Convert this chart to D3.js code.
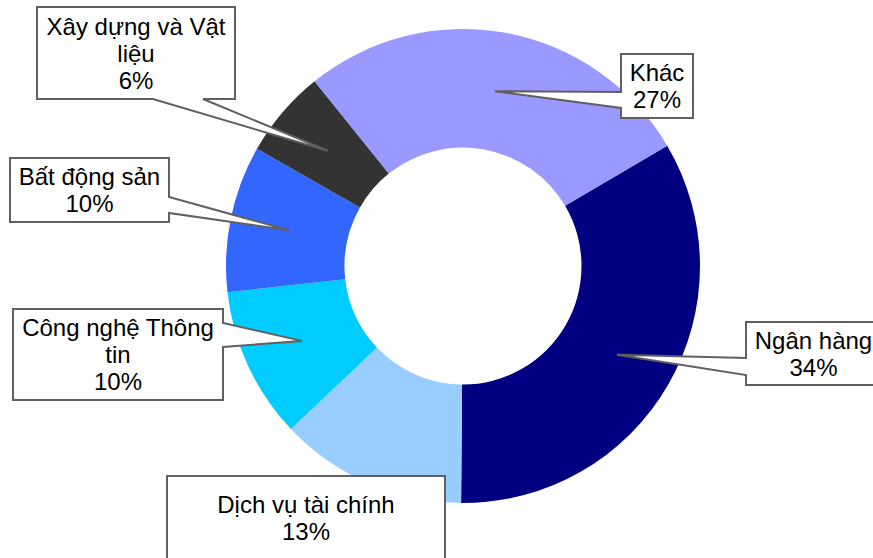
<!DOCTYPE html>
<html>
<head>
<meta charset="utf-8">
<script src="https://cdn.jsdelivr.net/npm/d3@7"></script>
<style>
  html, body { margin: 0; padding: 0; background: #fff; }
  svg { display: block; font-family: "Liberation Sans", Arial, sans-serif; }
</style>
</head>
<body>
<svg id="chart" width="873" height="558"></svg>
<script>
// sector shares (%)
var sectors = ["Ngân hàng", "Dịch vụ tài chính", "Công nghệ Thông tin", "Bất động sản", "Xây dựng và Vật liệu", "Khác"];
var shares = [33.6, 12.8, 10.3, 10.0, 6.0, 27.3];
var colors = ["#000080", "#99ccff", "#00ccff", "#3366ff", "#333333", "#9999ff"];

// callout boxes: where each label box sits and which edge carries the pointer
var boxes = [
  {x: 746, y: 322, w: 135, h: 63, side: "left",   b0: 358, b1: 375},
  {x: 167, y: 476, w: 278, h: 84, side: null},
  {x: 13,  y: 309, w: 210, h: 91, side: "right",  b0: 323, b1: 347},
  {x: 10,  y: 158, w: 159, h: 64, side: "right",  b0: 197, b1: 213},
  {x: 37,  y: 7,   w: 198, h: 92, side: "bottom", b0: 153, b1: 203},
  {x: 621, y: 54,  w: 72,  h: 64, side: "left",   b0: 92,  b1: 108}
];

var svg = d3.select("#chart"),
    cx = 463, cy = 266,
    outerR = 237, innerR = 118.5,
    lineH = 27;

var data = sectors.map(function(s, i) { return {name: s, value: shares[i], color: colors[i], box: boxes[i]}; });

var pie = d3.pie()
    .sort(null)
    .value(function(d) { return d.value; })
    .startAngle(59.5 * Math.PI / 180)
    .endAngle((59.5 + 360) * Math.PI / 180);

var arc = d3.arc().innerRadius(innerR).outerRadius(outerR);

var g = svg.append("g").attr("transform", "translate(" + cx + "," + cy + ")");

var arcs = pie(data);

g.selectAll("path.slice")
    .data(arcs)
    .enter().append("path")
    .attr("class", "slice")
    .attr("d", arc)
    .attr("fill", function(d) { return d.data.color; });

// outline of a box with a wedge pointing at tip
function calloutPath(b, tip) {
  var x0 = b.x, y0 = b.y, x1 = b.x + b.w, y1 = b.y + b.h;
  var p = d3.path();
  p.moveTo(x0, y0);
  p.lineTo(x1, y0);
  if (b.side === "right") {
    p.lineTo(x1, b.b0); p.lineTo(tip[0], tip[1]); p.lineTo(x1, b.b1);
  }
  p.lineTo(x1, y1);
  if (b.side === "bottom") {
    p.lineTo(b.b1, y1); p.lineTo(tip[0], tip[1]); p.lineTo(b.b0, y1);
  }
  p.lineTo(x0, y1);
  if (b.side === "left") {
    p.lineTo(x0, b.b1); p.lineTo(tip[0], tip[1]); p.lineTo(x0, b.b0);
  }
  p.closePath();
  return p.toString();
}

var labels = svg.append("g")
    .selectAll("g")
    .data(arcs)
    .enter().append("g");

labels.append("path")
    .attr("d", function(d) {
      var c = arc.centroid(d);
      return calloutPath(d.data.box, [c[0] + cx, c[1] + cy]);
    })
    .attr("fill", "#fff")
    .attr("stroke", "#606060")
    .attr("stroke-width", 2)
    .attr("stroke-linejoin", "miter");

labels.each(function(d) {
  var b = d.data.box,
      grp = d3.select(this),
      maxW = b.w - 12;

  // word wrap the name into the box width
  var probe = grp.append("text").attr("font-size", 24);
  var words = d.data.name.split(" "), lines = [], cur = "";
  words.forEach(function(w) {
    var test = cur ? cur + " " + w : w;
    probe.text(test);
    if (cur && probe.node().getComputedTextLength() > maxW) { lines.push(cur); cur = w; }
    else cur = test;
  });
  lines.push(cur);
  probe.remove();
  lines.push(Math.round(d.data.value) + "%");

  var midY = b.y + b.h / 2;
  grp.append("text")
      .attr("font-size", 24)
      .attr("fill", "#000")
      .attr("text-anchor", "middle")
      .selectAll("tspan")
      .data(lines)
      .enter().append("tspan")
      .attr("x", b.x + b.w / 2)
      .attr("y", function(t, i) { return midY + (i - (lines.length - 1) / 2) * lineH + 8.5; })
      .text(function(t) { return t; });
});
</script>
</body>
</html>
